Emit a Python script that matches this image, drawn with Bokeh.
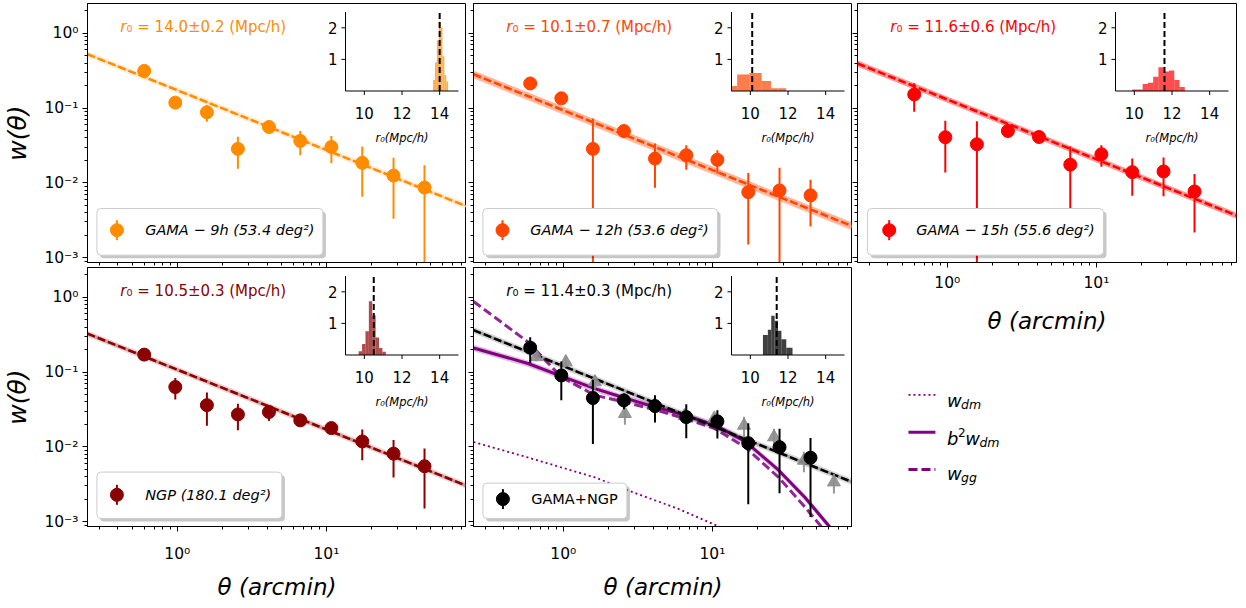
from bokeh.plotting import figure
from bokeh.layouts import row, column
from bokeh.models import (Range1d, LinearScale, FixedTicker, CustomJSTickFormatter,
                          BoxAnnotation, Label)
from bokeh.core.properties import value
from bokeh.embed import file_html
from bokeh.resources import INLINE

FONT = "DejaVu Sans"

# ---------------- data ----------------
# angular bin centres (arcmin)
theta = [0.60, 0.97, 1.58, 2.55, 4.12, 6.68, 10.8, 17.4, 28.2, 45.5]

w_g09 = [0.314, 0.118, 0.0877, 0.0284, 0.0558, 0.0363, 0.0302, 0.0185, 0.0125, 0.00865]
e_g09 = [0.020, 0.012, 0.022, 0.013, 0.008, 0.013, 0.012, 0.012, 0.0092, 0.0085]
w_g12 = [0.213, 0.135, 0.0284, 0.0493, 0.0211, 0.0234, 0.0203, 0.0075, 0.0079, 0.0068]
e_g12 = [0.020, 0.015, 0.044, 0.006, 0.0125, 0.0085, 0.007, 0.006, 0.008, 0.0042]
w_g15 = [0.152, 0.0407, 0.0328, 0.0493, 0.0410, 0.0175, 0.0241, 0.0139, 0.0142, 0.00766]
e_g15 = [0.063, 0.027, 0.034, 0.006, 0.006, 0.013, 0.0077, 0.0072, 0.0076, 0.0055]
w_ngp = [0.171, 0.063, 0.0361, 0.0271, 0.0292, 0.0226, 0.0178, 0.0118, 0.0081, 0.0055]
e_ngp = [0.012, 0.020, 0.017, 0.0105, 0.007, 0.004, 0.003, 0.0052, 0.0042, 0.004]
w_all = [0.212, 0.090, 0.0449, 0.0418, 0.0351, 0.0250, 0.0219, 0.0112, 0.0099, 0.00715]
e_all = [0.080, 0.048, 0.034, 0.010, 0.014, 0.012, 0.009, 0.0095, 0.0075, 0.006]

# alternative binning of the combined sample (grey triangles)
theta_alt = [0.66, 1.04, 1.63, 2.59, 4.10, 6.50, 10.3, 16.3, 25.9, 41.1, 65.3]
w_alt = [0.159, 0.136, 0.0735, 0.0277, 0.036, 0.026, 0.024, 0.0193, 0.0135, 0.00657, 0.00337]
e_alt = [0.020, 0.020, 0.015, 0.008, 0.006, 0.004, 0.004, 0.006, 0.004, 0.002, 0.001]

# power-law fits: w = A * theta^(1-gamma), A at 1 arcmin
GAMMA = 1.8
fit_amp = [0.173, 0.0934, 0.130, 0.1075, 0.120]
r0_val = [14.0, 10.1, 11.6, 10.5, 11.4]
r0_err = [0.2, 0.7, 0.6, 0.3, 0.3]

# r0 posterior histograms (bin edges, densities)
h09_edges = [13.65, 13.75, 13.85, 13.95, 14.05, 14.15, 14.25, 14.35, 14.45]
h09_dens = [0.35, 0.9, 1.6, 2.2, 2.0, 1.1, 0.5, 0.3]
h12_edges = [9.0, 9.3, 9.95, 10.6, 11.1, 11.5, 11.9]
h12_dens = [0.16, 0.52, 0.57, 0.32, 0.09, 0.09]
h15_edges = [9.88, 10.16, 10.44, 10.72, 11.0, 11.28, 11.56, 11.84, 12.12, 12.4, 12.68]
h15_dens = [0.05, 0.05, 0.22, 0.26, 0.45, 0.75, 0.62, 0.65, 0.35, 0.13]
hngp_edges = [9.7, 9.88, 10.06, 10.24, 10.42, 10.6, 10.78, 10.96, 11.14]
hngp_dens = [0.12, 0.35, 0.75, 1.7, 1.25, 0.55, 0.22, 0.1]
hall_edges = [10.67, 10.93, 11.11, 11.29, 11.47, 11.65, 11.91, 12.24]
hall_dens = [0.63, 0.8, 1.24, 1.08, 0.77, 0.5, 0.23]

# dark-matter model curves for the combined sample
theta_dm = [0.25, 0.58, 1.63, 2.73, 5.91, 12.0]
w_dm = [0.0116, 0.0072, 0.0039, 0.0026, 0.00148, 0.0008]
theta_mod = [0.25, 0.58, 0.97, 1.63, 2.59, 4.12, 6.55, 10.4, 16.6, 27.7, 41.8, 61.5]
w_b2dm = [0.21, 0.13, 0.088, 0.060, 0.045, 0.034, 0.0265, 0.0195, 0.0118, 0.0049, 0.0021, 0.00084]
w_gg = [0.88, 0.252, 0.0858, 0.0488, 0.0397, 0.0313, 0.0238, 0.0175, 0.0099, 0.00393, 0.00156, 0.00062]

labels = ["GAMA − 9h (53.4 deg²)", "GAMA − 12h (53.6 deg²)", "GAMA − 15h (55.6 deg²)",
          "NGP (180.1 deg²)", "GAMA+NGP"]
colors = ["#ff8c00", "#ff4500", "#ff0000", "#8b0000", "#000000"]

# ---------------- axes setup ----------------
XR = (0.25, 87.0)
YR = (8.6e-4, 2.5)
FW, FH = 379, 259

X_MAJOR = [1, 10]
X_MINOR = [m * 10.0 ** k for k in (-1, 0, 1) for m in range(2, 10)]
Y_MAJOR = [1e-3, 1e-2, 1e-1, 1]
Y_MINOR = [m * 10.0 ** k for k in (-4, -3, -2, -1, 0) for m in range(2, 10)]

POW10_JS = """
const s = {"-": "\u207b", "0": "\u2070", "1": "\u00b9", "2": "\u00b2", "3": "\u00b3",
           "4": "\u2074", "5": "\u2075", "6": "\u2076", "7": "\u2077", "8": "\u2078", "9": "\u2079"};
const e = Math.round(Math.log10(tick));
return "10" + String(e).split("").map(c => s[c]).join("");
"""

# inset placement inside each frame (pixels from frame left / top)
IN_L, IN_R, IN_T, IN_B = 258.0, 371.0, 8.5, 87.5
IX = (9.0, 15.0)
IY = (0.0, 2.5)
INSET_XTICKS = [10, 12, 14]
INSET_YTICKS = [1, 2]
ISX = (IX[1] - IX[0]) / (IN_R - IN_L)
ISY = (IY[1] - IY[0]) / (IN_B - IN_T)


def panel(ml, mt, mr, mb, show_x, show_y, x_std=(12, 8)):
    p = figure(x_axis_type="log", y_axis_type="log",
               x_range=Range1d(*XR), y_range=Range1d(*YR),
               frame_width=FW, frame_height=FH,
               min_border_left=ml, min_border_top=mt, min_border_right=mr, min_border_bottom=mb,
               output_backend="svg", toolbar_location=None,
               background_fill_color="white", border_fill_color="white")
    p.grid.visible = False
    p.outline_line_color = "black"
    p.outline_line_width = 1
    p.outline_line_alpha = 1
    xa, ya = p.xaxis[0], p.yaxis[0]
    for ax, maj, mnr, show in ((xa, X_MAJOR, X_MINOR, show_x), (ya, Y_MAJOR, Y_MINOR, show_y)):
        ax.ticker = FixedTicker(ticks=maj, minor_ticks=mnr)
        ax.axis_line_color = "black"
        ax.major_tick_line_color = "black"
        ax.minor_tick_line_color = "black"
        ax.major_tick_in = 0
        ax.major_tick_out = 5
        ax.minor_tick_in = 0
        ax.minor_tick_out = 3
        if show:
            ax.formatter = CustomJSTickFormatter(code=POW10_JS)
            ax.major_label_text_font = FONT
            ax.major_label_text_font_size = "15.5px"
            ax.major_label_text_color = "black"
            ax.axis_label_text_font = FONT
            ax.axis_label_text_font_style = "italic"
            ax.axis_label_text_color = "black"
        else:
            ax.formatter = CustomJSTickFormatter(code="return '';")
            ax.major_label_text_font_size = "0px"
            ax.major_label_standoff = 0
    if show_x:
        xa.axis_label = "θ (arcmin)"
        xa.axis_label_text_font_size = "23px"
        xa.major_label_standoff = x_std[0]
        xa.axis_label_standoff = x_std[1]
    if show_y:
        ya.axis_label = "w(θ)"
        ya.axis_label_text_font_size = "25px"
        ya.major_label_standoff = 4
        ya.axis_label_standoff = 9
    p.extra_x_ranges = {"ix": Range1d(IX[0] - IN_L * ISX, IX[1] + (FW - IN_R) * ISX),
                        "px": Range1d(0, FW)}
    p.extra_y_ranges = {"iy": Range1d(IY[0] - (FH - IN_B) * ISY, IY[1] + IN_T * ISY),
                        "py": Range1d(0, FH)}
    p.extra_x_scales = {"ix": LinearScale(), "px": LinearScale()}
    p.extra_y_scales = {"iy": LinearScale(), "py": LinearScale()}
    return p


def draw_fit(p, amp, r, re, color, band_alpha=0.3):
    xs = list(XR)
    frac = GAMMA * re / r
    mid = [amp * x ** (1 - GAMMA) for x in xs]
    p.varea(x=xs, y1=[m * (1 - frac) for m in mid], y2=[m * (1 + frac) for m in mid],
            fill_color=color, fill_alpha=band_alpha)
    p.line(xs, mid, line_color=color, line_width=6, line_alpha=0.15)
    p.line(xs, mid, line_color=color, line_dash="8 3", line_width=2.5)


def draw_points(p, th, w, e, color, marker="circle", size=13, alpha=1.0):
    lo = [max(v - d, 1e-6) for v, d in zip(w, e)]
    hi = [v + d for v, d in zip(w, e)]
    p.segment(x0=th, y0=lo, x1=th, y1=hi, line_color=color, line_width=2, line_alpha=alpha)
    p.scatter(th, w, marker=marker, size=size, fill_color=color, line_color=color,
              fill_alpha=alpha, line_alpha=alpha)


def draw_inset(p, edges, dens, r, color, alpha):
    kw = dict(x_range_name="ix", y_range_name="iy")
    p.quad(left=edges[:-1], right=edges[1:], bottom=0, top=dens,
           fill_color=color, fill_alpha=alpha, line_color=None, **kw)
    p.segment(x0=[r], y0=[IY[0]], x1=[r], y1=[IY[1]], line_color="black",
              line_dash="6 3", line_width=2, **kw)
    p.segment(x0=[IX[0], IX[0]], y0=[IY[0], IY[0]], x1=[IX[0], IX[1]], y1=[IY[1], IY[0]],
              line_color="black", line_width=1, **kw)
    tx, ty = 4 * ISX, 4 * ISY
    p.segment(x0=[IX[0] - tx] * len(INSET_YTICKS), y0=INSET_YTICKS,
              x1=[IX[0]] * len(INSET_YTICKS), y1=INSET_YTICKS, line_color="black", **kw)
    p.segment(x0=INSET_XTICKS, y0=[-ty] * len(INSET_XTICKS),
              x1=INSET_XTICKS, y1=[0] * len(INSET_XTICKS), line_color="black", **kw)
    p.text(x=[IX[0]] * len(INSET_YTICKS), y=INSET_YTICKS, text=[str(t) for t in INSET_YTICKS],
           x_offset=-8, text_align="right", text_baseline="middle",
           text_font=value(FONT), text_font_size="15px", text_color="black", **kw)
    p.text(x=INSET_XTICKS, y=[0] * len(INSET_XTICKS), text=[str(t) for t in INSET_XTICKS],
           y_offset=22, text_align="center", text_baseline="middle",
           text_font=value(FONT), text_font_size="15px", text_color="black", **kw)
    p.text(x=[12], y=[0], text=["r₀(Mpc/h)"], y_offset=47, text_align="center",
           text_baseline="middle", text_font=value(FONT), text_font_style="italic",
           text_font_size="11.5px", text_color="black", **kw)


def draw_r0(p, r, re, color):
    p.add_layout(Label(x=32.7, y=236, x_units="screen", y_units="screen", text="r",
                       text_font=FONT, text_font_style="italic", text_font_size="15px",
                       text_color=color, text_baseline="middle"))
    p.add_layout(Label(x=39.0, y=236, x_units="screen", y_units="screen",
                       text="₀ = %.1f±%.1f  (Mpc/h)" % (r, re),
                       text_font=FONT, text_font_size="15px",
                       text_color=color, text_baseline="middle"))


def draw_legend(p, box, mxy, tx, text, color, italic=True):
    l, r, b, t = box
    su = dict(left_units="screen", right_units="screen", top_units="screen", bottom_units="screen")
    p.add_layout(BoxAnnotation(left=l + 3, right=r + 3, bottom=b - 3, top=t - 3,
                               fill_color="#000000", fill_alpha=0.22, line_color=None,
                               border_radius=4, level="annotation", **su))
    p.add_layout(BoxAnnotation(left=l, right=r, bottom=b, top=t,
                               fill_color="white", fill_alpha=1.0, line_color="#cccccc",
                               line_alpha=1.0, line_width=1,
                               border_radius=4, level="annotation", **su))
    mx, my = mxy
    kw = dict(x_range_name="px", y_range_name="py", level="overlay")
    p.segment(x0=[mx], y0=[my - 10], x1=[mx], y1=[my + 10], line_color=color, line_width=2, **kw)
    p.scatter([mx], [my], size=13, fill_color=color, line_color=color, **kw)
    p.add_layout(Label(x=tx, y=my, x_units="screen", y_units="screen", text=text,
                       text_font=FONT, text_font_style="italic" if italic else "normal",
                       text_font_size="14.5px", text_color="black", text_baseline="middle",
                       level="overlay"))


# ---------------- panels ----------------
p1 = panel(87, 3, 0, 5, False, True)
p2 = panel(7, 3, 0, 5, False, False)
p3 = panel(5, 3, 10, 78, True, False, x_std=(6, 13))
p4 = panel(87, 0, 0, 82, True, True, x_std=(13, 8))
p5 = panel(7, 0, 0, 82, True, False, x_std=(13, 8))

series = [(p1, w_g09, e_g09, h09_edges, h09_dens, 0.7),
          (p2, w_g12, e_g12, h12_edges, h12_dens, 0.7),
          (p3, w_g15, e_g15, h15_edges, h15_dens, 0.7),
          (p4, w_ngp, e_ngp, hngp_edges, hngp_dens, 0.7),
          (p5, w_all, e_all, hall_edges, hall_dens, 0.75)]

legend_boxes = [(9.4, 235.4, 7.3, 54.0), (9.4, 244.0, 7.3, 54.0), (10.0, 246.0, 7.3, 54.0),
                (9.4, 194.4, 8.0, 54.4), (9.4, 153.4, 8.0, 43.4)]
legend_marker = [(29.4, 32.3), (29.0, 32.3), (31.7, 32.3), (29.4, 31.7), (29.4, 27.4)]
legend_text_x = [57.7, 56.7, 58.7, 57.7, 57.7]

for i, (p, w, e, he, hd, ha) in enumerate(series):
    c = colors[i]
    if i == 4:
        # dark-matter model predictions
        p.line(theta_dm, w_dm, line_color="#800080", line_dash="2 3", line_width=1.8)
        p.varea(x=theta_mod, y1=[v * 0.9 for v in w_b2dm], y2=[v * 1.1 for v in w_b2dm],
                fill_color="#800080", fill_alpha=0.25)
        p.line(theta_mod, w_b2dm, line_color="#800080", line_width=3)
        p.line(theta_mod, w_gg, line_color="#800080", line_dash="9 4", line_width=3, line_alpha=0.85)
        draw_fit(p, fit_amp[i], r0_val[i], r0_err[i], "#000000", band_alpha=0.25)
        draw_points(p, theta_alt, w_alt, e_alt, "#8c8c8c", marker="triangle", size=13, alpha=0.9)
    else:
        draw_fit(p, fit_amp[i], r0_val[i], r0_err[i], c)
    draw_points(p, theta, w, e, c)
    draw_inset(p, he, hd, r0_val[i], c, ha)
    draw_r0(p, r0_val[i], r0_err[i], c)
    draw_legend(p, legend_boxes[i], legend_marker[i], legend_text_x[i], labels[i], c,
                italic=(i != 4))

# ---------------- model legend ----------------
LW, LH = 394, 268
leg = figure(width=LW, height=LH, x_range=Range1d(0, LW), y_range=Range1d(LH, 0),
             min_border=0, toolbar_location=None, output_backend="svg",
             x_axis_location=None, y_axis_location=None, outline_line_color=None,
             background_fill_color="white", border_fill_color="white")
leg.grid.visible = False
leg.segment(x0=[53], y0=[54.3], x1=[81], y1=[54.3], line_color="#800080", line_dash="2 3", line_width=1.8)
leg.segment(x0=[53], y0=[91.7], x1=[81], y1=[91.7], line_color="#800080", line_width=3)
leg.segment(x0=[53], y0=[129], x1=[81], y1=[129], line_color="#800080", line_dash="9 4", line_width=3)
big = dict(text_font=value(FONT), text_font_style="italic", text_font_size="18px",
           text_color="black", text_baseline="alphabetic")
small = dict(text_font=value(FONT), text_font_style="italic", text_font_size="12.5px",
             text_color="black", text_baseline="alphabetic")
leg.text(x=[93, 93, 112, 93], y=[60, 98.3, 98.3, 133.3], text=["w", "b", "w", "w"], **big)
leg.text(x=[107.7, 126.7, 107.7], y=[63.5, 101.7, 136.7], text=["dm", "dm", "gg"], **small)
leg.text(x=[104.4], y=[92], text=["2"], text_font=value(FONT), text_font_size="12px",
         text_color="black", text_baseline="alphabetic")

layout = row(column(p1, p4, spacing=0), column(p2, p5, spacing=0), column(p3, leg, spacing=0),
             spacing=0)

open("out.html", "w").write(file_html(layout, INLINE))
